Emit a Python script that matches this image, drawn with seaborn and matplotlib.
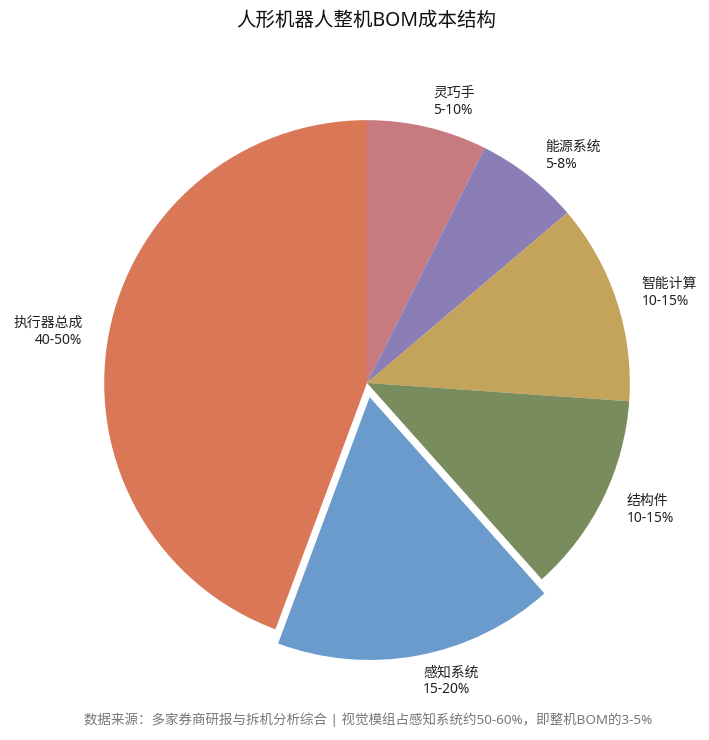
import matplotlib
matplotlib.use("Agg")
import matplotlib.pyplot as plt
import seaborn as sns

sns.set_theme(style="white")
plt.rcParams['font.family'] = ['Noto Sans', 'Noto Sans CJK SC', 'DejaVu Sans']

# 数据（取区间中值作为扇区大小）
parts = ['灵巧手', '能源系统', '智能计算', '结构件', '感知系统', '执行器总成']
ranges = ['5-10%', '5-8%', '10-15%', '10-15%', '15-20%', '40-50%']
shares = [7.5, 6.5, 12.5, 12.5, 17.5, 45]
colors = ['#C77A80', '#8B7DB5', '#C4A35A', '#788C5D', '#6A9BCC', '#D97757']
explode = [0, 0, 0, 0, 0.055, 0]

labels = [f'{p}\n{r}' for p, r in zip(parts, ranges)]

fig = plt.figure(figsize=(7.09, 7.40), dpi=100)
ax = fig.add_axes([0.0543, 0.0385, 0.9267, 0.888])

ax.pie(shares, labels=labels, colors=colors, explode=explode,
       startangle=90, counterclock=False, labeldistance=1.1,
       wedgeprops=dict(linewidth=0),
       textprops=dict(fontsize=10, color='#222222'))
ax.set_aspect('equal')

fig.text(0.517, 0.972, '人形机器人整机BOM成本结构', ha='center', va='center',
         fontsize=14, color='#111111')
fig.text(0.519, 0.027, '数据来源：多家券商研报与拆机分析综合 | 视觉模组占感知系统约50-60%，即整机BOM的3-5%',
         ha='center', va='center', fontsize=9.7, color='#777777')

fig.savefig('out.png', dpi=100, facecolor='white')
